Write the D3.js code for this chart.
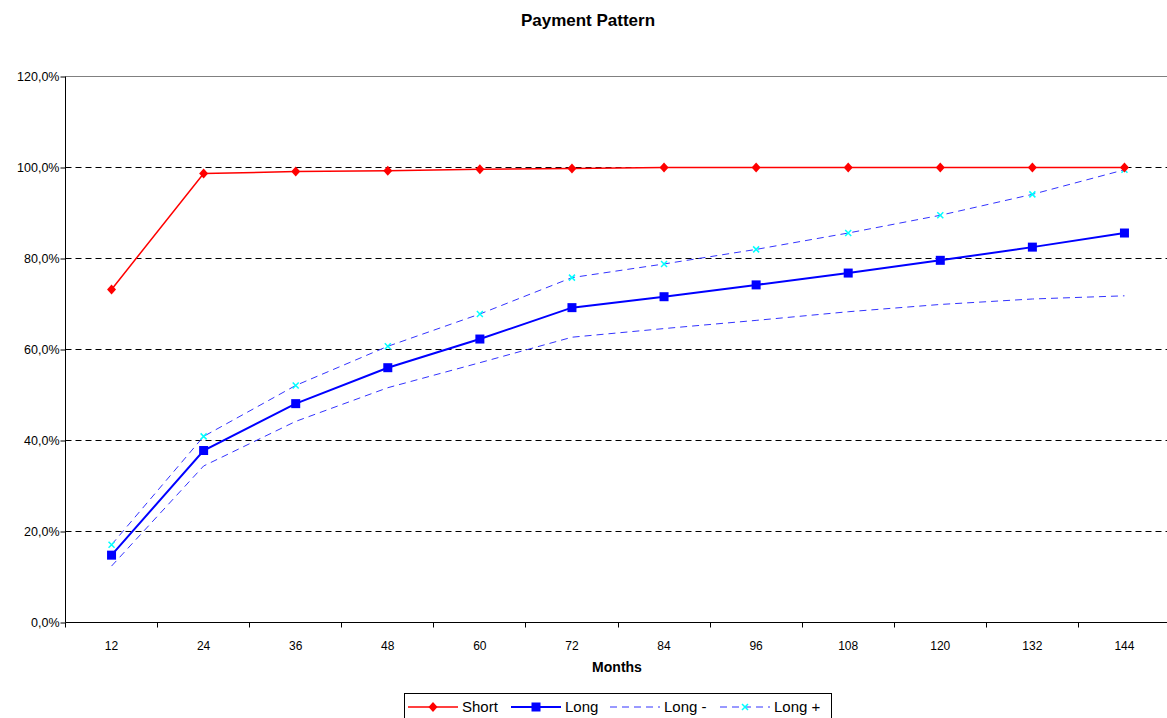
<!DOCTYPE html>
<html>
<head>
  <meta charset="UTF-8">
  <script src="https://d3js.org/d3.v7.js"></script>
  <style>
    body { margin: 0; background: #fff; }
    text { font-family: "Liberation Sans", Arial, sans-serif; }
  </style>
</head>
<body>
  <div id="chart"></div>
  <script>
    // data

    const months = [12, 24, 36, 48, 60, 72, 84, 96, 108, 120, 132, 144];
    const shortVals = [73.2, 98.7, 99.1, 99.3, 99.6, 99.8, 100, 100, 100, 100, 100, 100];
    const longVals = [14.8, 37.8, 48.1, 56.0, 62.3, 69.2, 71.6, 74.2, 76.8, 79.6, 82.5, 85.6];
    const longMinus = [12.4, 34.4, 44.2, 51.6, 57.1, 62.7, 64.6, 66.4, 68.3, 69.9, 71.1, 71.8];
    const longPlus = [17.1, 40.9, 52.1, 60.7, 67.8, 75.8, 78.8, 82.0, 85.6, 89.5, 94.1, 99.5];
    const yTicks = [0, 20, 40, 60, 80, 100, 120];

    // set up

    const W = 1167, H = 718;
    const margin = { top: 76, right: -3, bottom: 96, left: 65 };
    const width = W - margin.left - margin.right;
    const height = H - margin.top - margin.bottom;

    const svg = d3.select('#chart')
      .append('svg')
        .attr('width', W)
        .attr('height', H);

    // half pixel shift keeps the 1px rules crisp
    const g = svg.append('g')
        .attr('transform', `translate(${margin.left + 0.5},${margin.top + 0.5})`);

    // scales

    const x = d3.scaleBand()
        .domain(months)
        .range([0, width]);

    const y = d3.scaleLinear()
        .domain([0, 120])
        .range([height, 0]);

    const cx = d => x(d) + x.bandwidth() / 2;
    const fmt = v => d3.format('.1f')(v).replace('.', ',') + '%';

    // title

    svg.append('text')
        .attr('x', 588).attr('y', 26)
        .attr('text-anchor', 'middle')
        .attr('font-size', 17).attr('font-weight', 'bold')
        .text('Payment Pattern');

    // grid

    g.append('g')
      .selectAll('line')
      .data(yTicks.filter(d => d > 0 && d < 120))
      .join('line')
        .attr('x1', 0).attr('x2', width)
        .attr('y1', d => y(d)).attr('y2', d => y(d))
        .attr('stroke', '#000')
        .attr('stroke-dasharray', '6,4');

    g.append('line')
        .attr('x1', 0).attr('x2', width)
        .attr('y1', 0).attr('y2', 0)
        .attr('stroke', '#808080');

    // axes

    const yAxis = d3.axisLeft(y).tickValues(yTicks).tickSize(5).tickFormat(fmt);
    g.append('g')
        .call(yAxis)
        .call(a => a.select('.domain').attr('d', `M0,0V${height}`))
        .call(a => a.selectAll('text').attr('font-size', 12.5).attr('font-family', '"Liberation Sans", Arial, sans-serif').attr('x', -6));

    const xa = g.append('g').attr('transform', `translate(0,${height})`);
    xa.append('line')
        .attr('x1', 0).attr('x2', width)
        .attr('stroke', '#000');
    xa.selectAll('.tk')
      .data(months.concat([null]))
      .join('line')
        .attr('class', 'tk')
        .attr('x1', (d, i) => Math.round(i * x.step())).attr('x2', (d, i) => Math.round(i * x.step()))
        .attr('y1', 0).attr('y2', 5)
        .attr('stroke', '#000');
    xa.selectAll('text')
      .data(months)
      .join('text')
        .attr('x', d => cx(d))
        .attr('y', 27)
        .attr('text-anchor', 'middle')
        .attr('font-size', 12)
        .text(d => d);

    svg.append('text')
        .attr('x', 617).attr('y', 672)
        .attr('text-anchor', 'middle')
        .attr('font-size', 14).attr('font-weight', 'bold')
        .text('Months');

    // lines

    const series = [
      { name: 'Short', values: shortVals, color: '#ff0000', width: 1.5, dash: null, marker: 'diamond' },
      { name: 'Long', values: longVals, color: '#0000ff', width: 2, dash: null, marker: 'square' },
      { name: 'Long -', values: longMinus, color: '#3333ff', width: 1, dash: '7,5', marker: null },
      { name: 'Long +', values: longPlus, color: '#3333ff', width: 1, dash: '7,5', marker: 'x' }
    ];

    const line = d3.line()
        .x((d, i) => cx(months[i]))
        .y(d => y(d));

    function drawMarker(sel, type, px, py) {
      if (type === 'diamond') {
        sel.append('path')
            .attr('d', `M${px},${py - 5}L${px + 4.5},${py}L${px},${py + 5}L${px - 4.5},${py}Z`)
            .attr('fill', '#ff0000');
      } else if (type === 'square') {
        sel.append('rect')
            .attr('x', px - 4.5).attr('y', py - 4.5)
            .attr('width', 9).attr('height', 9)
            .attr('fill', '#0000ff');
      } else if (type === 'x') {
        sel.append('path')
            .attr('d', `M${px - 3},${py - 3}L${px + 3},${py + 3}M${px - 3},${py + 3}L${px + 3},${py - 3}`)
            .attr('stroke', '#00ffff').attr('stroke-width', 1.5);
      }
    }

    // draw back to front: Long-, Long+, Long, Short
    [2, 3, 1, 0].forEach(k => {
      const s = series[k];
      g.append('path')
          .datum(s.values)
          .attr('d', line)
          .attr('fill', 'none')
          .attr('stroke', s.color)
          .attr('stroke-width', s.width)
          .attr('stroke-dasharray', s.dash);
      if (s.marker) {
        const mg = g.append('g');
        s.values.forEach((v, i) => drawMarker(mg, s.marker, cx(months[i]), y(v)));
      }
    });

    // legend

    const lg = svg.append('g');
    lg.append('rect')
        .attr('x', 404.5).attr('y', 693.5)
        .attr('width', 427).attr('height', 30)
        .attr('fill', '#fff').attr('stroke', '#000');

    const legendX = [408, 511, 610, 720];
    series.forEach((s, i) => {
      const x0 = legendX[i];
      lg.append('line')
          .attr('x1', x0).attr('x2', x0 + 50)
          .attr('y1', 707).attr('y2', 707)
          .attr('stroke', s.color)
          .attr('stroke-width', s.width)
          .attr('stroke-dasharray', s.dash);
      drawMarker(lg, s.marker, x0 + 25, 707);
      lg.append('text')
          .attr('x', x0 + 54).attr('y', 712)
          .attr('font-size', 15)
          .text(s.name);
    });
  </script>
</body>
</html>
